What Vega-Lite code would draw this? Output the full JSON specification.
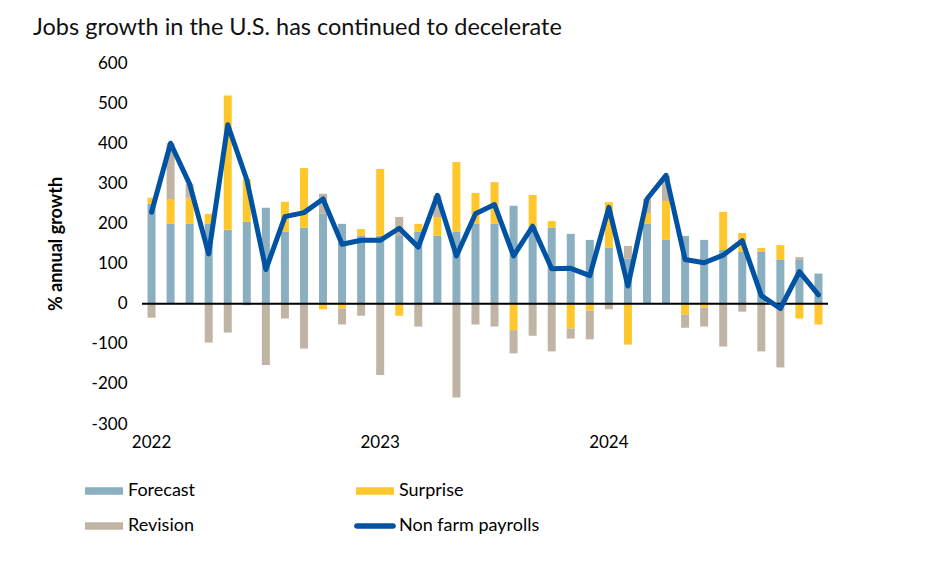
{
  "$schema": "https://vega.github.io/schema/vega-lite/v6.json",
  "autosize": {"type": "none"},
  "width": 686,
  "height": 361,
  "padding": {"left": 142, "top": 63, "right": 124, "bottom": 138},
  "background": "white",
  "title": {
    "text": "Jobs growth in the U.S. has continued to decelerate",
    "anchor": "start",
    "frame": "group",
    "dx": -109,
    "offset": 15,
    "font": "Lato",
    "fontSize": 23.5,
    "fontWeight": "normal",
    "color": "#111111"
  },
  "config": {"font": "Lato", "view": {"stroke": null}},
  "data": {
    "values": [
      {"month": "2022-01", "Forecast": 249, "Surprise": 15, "Revision": -35, "nfp": 228},
      {"month": "2022-02", "Forecast": 199, "Surprise": 62, "Revision": 139, "nfp": 400},
      {"month": "2022-03", "Forecast": 199, "Surprise": 65, "Revision": 35, "nfp": 298},
      {"month": "2022-04", "Forecast": 199, "Surprise": 25, "Revision": -97, "nfp": 124},
      {"month": "2022-05", "Forecast": 184, "Surprise": 335, "Revision": -72, "nfp": 446},
      {"month": "2022-06", "Forecast": 204, "Surprise": 107, "Revision": -4, "nfp": 309},
      {"month": "2022-07", "Forecast": 239, "Surprise": 0, "Revision": -153, "nfp": 85},
      {"month": "2022-08", "Forecast": 179, "Surprise": 75, "Revision": -37, "nfp": 217},
      {"month": "2022-09", "Forecast": 189, "Surprise": 149, "Revision": -112, "nfp": 227},
      {"month": "2022-10", "Forecast": 224, "Surprise": -14, "Revision": 50, "nfp": 261},
      {"month": "2022-11", "Forecast": 199, "Surprise": -12, "Revision": -40, "nfp": 148},
      {"month": "2022-12", "Forecast": 169, "Surprise": 17, "Revision": -30, "nfp": 158},
      {"month": "2023-01", "Forecast": 169, "Surprise": 167, "Revision": -178, "nfp": 158},
      {"month": "2023-02", "Forecast": 169, "Surprise": -30, "Revision": 47, "nfp": 188},
      {"month": "2023-03", "Forecast": 179, "Surprise": 20, "Revision": -57, "nfp": 141},
      {"month": "2023-04", "Forecast": 169, "Surprise": 47, "Revision": 54, "nfp": 270},
      {"month": "2023-05", "Forecast": 179, "Surprise": 174, "Revision": -234, "nfp": 119},
      {"month": "2023-06", "Forecast": 199, "Surprise": 77, "Revision": -52, "nfp": 224},
      {"month": "2023-07", "Forecast": 199, "Surprise": 104, "Revision": -57, "nfp": 247},
      {"month": "2023-08", "Forecast": 244, "Surprise": -66, "Revision": -58, "nfp": 119},
      {"month": "2023-09", "Forecast": 194, "Surprise": 77, "Revision": -80, "nfp": 193},
      {"month": "2023-10", "Forecast": 189, "Surprise": 17, "Revision": -119, "nfp": 87},
      {"month": "2023-11", "Forecast": 174, "Surprise": -62, "Revision": -25, "nfp": 88},
      {"month": "2023-12", "Forecast": 159, "Surprise": -17, "Revision": -72, "nfp": 70},
      {"month": "2024-01", "Forecast": 139, "Surprise": 114, "Revision": -14, "nfp": 240},
      {"month": "2024-02", "Forecast": 112, "Surprise": -102, "Revision": 32, "nfp": 44},
      {"month": "2024-03", "Forecast": 199, "Surprise": 27, "Revision": 35, "nfp": 261},
      {"month": "2024-04", "Forecast": 159, "Surprise": 97, "Revision": 63, "nfp": 320},
      {"month": "2024-05", "Forecast": 169, "Surprise": -27, "Revision": -33, "nfp": 110},
      {"month": "2024-06", "Forecast": 159, "Surprise": -10, "Revision": -47, "nfp": 102},
      {"month": "2024-07", "Forecast": 134, "Surprise": 95, "Revision": -107, "nfp": 121},
      {"month": "2024-08", "Forecast": 129, "Surprise": 47, "Revision": -20, "nfp": 157},
      {"month": "2024-09", "Forecast": 129, "Surprise": 10, "Revision": -119, "nfp": 20},
      {"month": "2024-10", "Forecast": 109, "Surprise": 37, "Revision": -159, "nfp": -12},
      {"month": "2024-11", "Forecast": 109, "Surprise": -37, "Revision": 7, "nfp": 80},
      {"month": "2024-12", "Forecast": 75, "Surprise": -52, "Revision": 0, "nfp": 22}
    ]
  },
  "layer": [
    {
      "transform": [
        {"fold": ["Forecast", "Surprise", "Revision"], "as": ["component", "value"]},
        {"calculate": "indexof(['Forecast', 'Surprise', 'Revision'], datum.component)", "as": "stackOrder"}
      ],
      "mark": {"type": "bar"},
      "encoding": {
        "x": {
          "field": "month",
          "type": "ordinal",
          "scale": {"paddingInner": 0.58, "paddingOuter": 0.29},
          "axis": {
            "title": null,
            "labelExpr": "slice(datum.value, 5) == '01' ? slice(datum.value, 0, 4) : ''",
            "labelAngle": 0,
            "labelAlign": "center",
            "labelOverlap": false,
            "labelFontSize": 17,
            "labelColor": "black",
            "labelPadding": 10,
            "ticks": false,
            "domain": false,
            "grid": false
          }
        },
        "y": {
          "field": "value",
          "type": "quantitative",
          "stack": "zero",
          "scale": {"domain": [-300, 600], "nice": false},
          "axis": {
            "title": "% annual growth",
            "titleFontSize": 18,
            "titleFontWeight": "bold",
            "titleColor": "black",
            "titlePadding": 26,
            "values": [-300, -200, -100, 0, 100, 200, 300, 400, 500, 600],
            "labelExpr": "'' + datum.value",
            "labelFontSize": 17,
            "labelColor": "black",
            "labelPadding": 15,
            "ticks": false,
            "domain": false,
            "grid": false
          }
        },
        "order": {"field": "stackOrder", "type": "quantitative", "sort": "ascending"},
        "color": {
          "field": "component",
          "type": "nominal",
          "scale": {
            "domain": ["Forecast", "Surprise", "Revision", "Non farm payrolls"],
            "range": ["#8AAFC1", "#FFC72C", "#C0B4A4", "#0052A3"]
          },
          "legend": {
            "title": null,
            "orient": "none",
            "direction": "horizontal",
            "legendX": -57,
            "legendY": 409,
            "columns": 2,
            "columnPadding": 158,
            "rowPadding": 7,
            "labelFontSize": 18,
            "labelColor": "black",
            "labelOffset": 5,
            "symbolType": "M-1,-0.2H1V0.2H-1Z",
            "symbolSize": 1444,
            "symbolStrokeWidth": 0,
            "encode": {
              "symbols": {
                "update": {
                  "shape": {"signal": "datum.value === 'Non farm payrolls' ? 'M-0.95,-0.15H0.95A0.15,0.15 0 0 1 0.95,0.15H-0.95A0.15,0.15 0 0 1 -0.95,-0.15Z' : 'M-1,-0.2H1V0.2H-1Z'"},
                  "fill": {"scale": "color", "field": "value"},
                  "strokeWidth": {"value": 0},
                  "opacity": {"value": 1}
                }
              }
            }
          }
        }
      }
    },
    {
      "data": {"values": [{}]},
      "mark": {"type": "rule", "color": "black", "strokeWidth": 2},
      "encoding": {"y": {"datum": 0}}
    },
    {
      "mark": {"type": "line", "strokeWidth": 5, "strokeJoin": "round", "strokeCap": "round"},
      "encoding": {
        "x": {"field": "month", "type": "ordinal"},
        "y": {"field": "nfp", "type": "quantitative"},
        "color": {"datum": "Non farm payrolls"}
      }
    }
  ]
}
